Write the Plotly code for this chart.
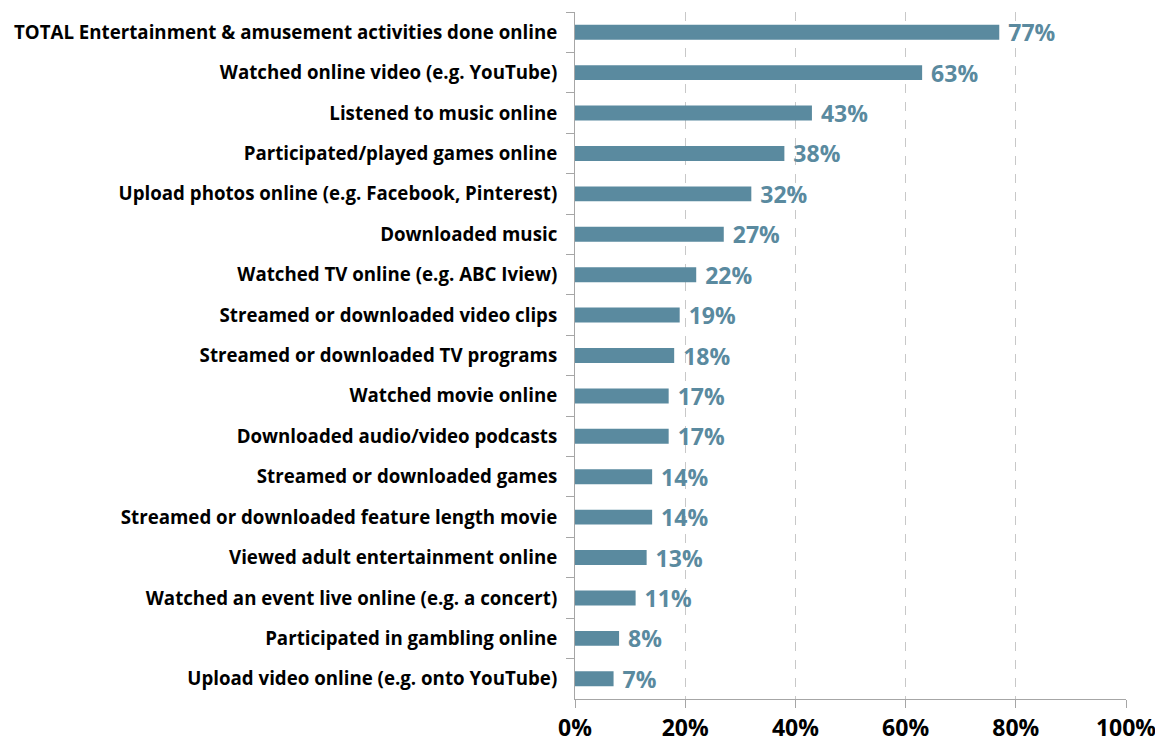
import plotly.graph_objects as go

categories = [
    "TOTAL Entertainment & amusement activities done online",
    "Watched online video (e.g. YouTube)",
    "Listened to music online",
    "Participated/played games online",
    "Upload photos online (e.g. Facebook, Pinterest)",
    "Downloaded music",
    "Watched TV online (e.g. ABC Iview)",
    "Streamed or downloaded video clips",
    "Streamed or downloaded TV programs",
    "Watched movie online",
    "Downloaded audio/video podcasts",
    "Streamed or downloaded games",
    "Streamed or downloaded feature length movie",
    "Viewed adult entertainment online",
    "Watched an event live online (e.g. a concert)",
    "Participated in gambling online",
    "Upload video online (e.g. onto YouTube)",
]
values = [77, 63, 43, 38, 32, 27, 22, 19, 18, 17, 17, 14, 14, 13, 11, 8, 7]
tick_vals = [0, 20, 40, 60, 80, 100]
tick_text = ["0%", "20%", "40%", "60%", "80%", "100%"]

bar_color = "#5A8A9F"
FONT = "Open Sans"

fig = go.Figure(go.Bar(
    x=values,
    y=categories,
    orientation="h",
    marker=dict(color=bar_color, line=dict(width=0)),
    text=[f" {v}%" for v in values],
    textposition="outside",
    constraintext="none",
    cliponaxis=False,
    textfont=dict(family=FONT, size=23, color=bar_color, weight="bold"),
))

# page body has an 8px default margin, so the figure is sized to fit
fig.update_layout(
    width=1155, height=739,
    margin=dict(l=567, r=37, t=4, b=48),
    paper_bgcolor="white", plot_bgcolor="white",
    bargap=0.63,
    showlegend=False,
    font=dict(family=FONT),
)
fig.update_xaxes(
    range=[0, 100],
    automargin=False,
    tickvals=tick_vals, ticktext=tick_text,
    tickfont=dict(family=FONT, size=23, color="black", weight="bold"),
    showgrid=True, gridcolor="#C8C8C8", griddash="dash", gridwidth=1,
    showline=True, linecolor="#A6A6A6", linewidth=1,
    ticks="outside", ticklen=8, tickcolor="#A6A6A6",
    zeroline=False,
)
fig.update_yaxes(
    autorange="reversed",
    automargin=False,
    tickfont=dict(family=FONT, size=18.7, color="black", weight="bold"),
    showline=True, linecolor="#A6A6A6", linewidth=1,
    ticks="outside", ticklen=8, tickcolor="#A6A6A6",
    tickson="boundaries",
    ticklabelstandoff=13,
    showgrid=False,
)

fig.write_html("out.html")
